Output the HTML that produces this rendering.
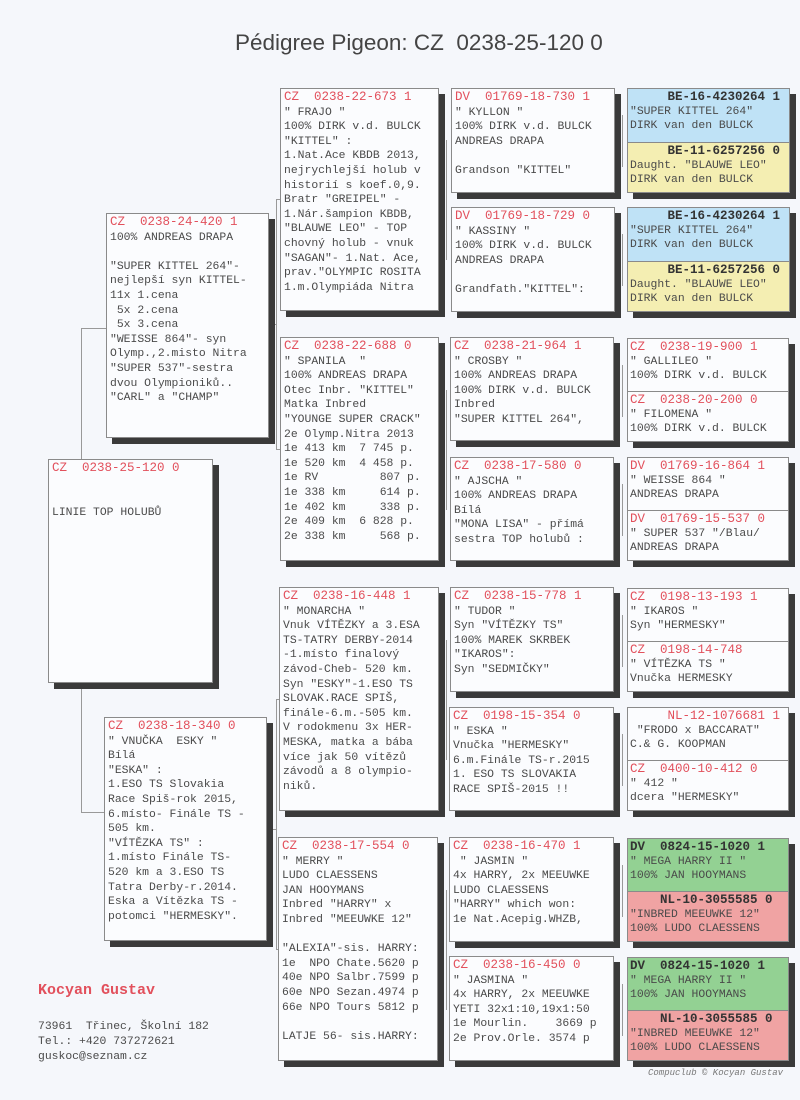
<!DOCTYPE html>
<html><head><meta charset="utf-8"><style>
body{margin:0;width:800px;height:1100px;background:#f5f7fb;position:relative;overflow:hidden;font-family:"Liberation Mono",monospace;color:#4a4a4a}
.b{position:absolute;background:#fbfcfe;border:1px solid #8a8a8a;box-shadow:6px 6px 0 #3a3a3a;font-size:11.4px;line-height:14.6px;padding:1px 0 0 3px;box-sizing:border-box;white-space:pre;overflow:hidden}
.r{color:#e2505c;font-size:12.5px}
.p{position:absolute;border:1px solid #8a8a8a;box-shadow:6px 6px 0 #3a3a3a;box-sizing:border-box;font-size:11.4px;white-space:pre;overflow:hidden}
.h{position:absolute;left:0;right:0;padding:1px 0 0 2px;line-height:14px;box-sizing:border-box}
.k{font-weight:bold;color:#333;font-size:12.5px}
.ln{position:absolute;background:#999}
</style></head><body>
<div style="position:absolute;left:235px;top:30px;font-family:'Liberation Sans',sans-serif;font-size:22.5px;color:#444;white-space:pre">Pédigree Pigeon: CZ  0238-25-120 0</div>

<!-- connectors -->
<div class="ln" style="left:81px;top:328px;width:1px;height:131px"></div>
<div class="ln" style="left:81px;top:328px;width:25px;height:1px"></div>
<div class="ln" style="left:81px;top:682px;width:1px;height:131px"></div>
<div class="ln" style="left:81px;top:812px;width:23px;height:1px"></div>
<div class="ln" style="left:276px;top:199px;width:1px;height:250px"></div>
<div class="ln" style="left:268px;top:324px;width:8px;height:1px"></div>
<div class="ln" style="left:276px;top:199px;width:4px;height:1px"></div>
<div class="ln" style="left:276px;top:449px;width:4px;height:1px"></div>
<div class="ln" style="left:276px;top:699px;width:1px;height:250px"></div>
<div class="ln" style="left:268px;top:829px;width:8px;height:1px"></div>
<div class="ln" style="left:276px;top:699px;width:4px;height:1px"></div>
<div class="ln" style="left:276px;top:949px;width:4px;height:1px"></div>
<div class="ln" style="left:446px;top:140px;width:1px;height:120px"></div>
<div class="ln" style="left:446px;top:390px;width:1px;height:120px"></div>
<div class="ln" style="left:446px;top:640px;width:1px;height:120px"></div>
<div class="ln" style="left:446px;top:890px;width:1px;height:120px"></div>
<div class="ln" style="left:622px;top:115px;width:1px;height:52px"></div>
<div class="ln" style="left:622px;top:234px;width:1px;height:52px"></div>
<div class="ln" style="left:622px;top:365px;width:1px;height:52px"></div>
<div class="ln" style="left:622px;top:484px;width:1px;height:52px"></div>
<div class="ln" style="left:622px;top:615px;width:1px;height:52px"></div>
<div class="ln" style="left:622px;top:734px;width:1px;height:52px"></div>
<div class="ln" style="left:622px;top:865px;width:1px;height:52px"></div>
<div class="ln" style="left:622px;top:984px;width:1px;height:52px"></div>

<!-- gen1 -->
<div class="b" style="left:48px;top:459px;width:165px;height:224px"><span class="r">CZ  0238-25-120 0</span>


LINIE TOP HOLUBŮ</div>

<!-- gen2 -->
<div class="b" style="left:106px;top:213px;width:163px;height:225px"><span class="r">CZ  0238-24-420 1</span>
100% ANDREAS DRAPA

"SUPER KITTEL 264"-
nejlepší syn KITTEL-
11x 1.cena
 5x 2.cena
 5x 3.cena
"WEISSE 864"- syn
Olymp.,2.misto Nitra
"SUPER 537"-sestra
dvou Olympioniků..
"CARL" a "CHAMP"</div>
<div class="b" style="left:104px;top:717px;width:163px;height:224px"><span class="r">CZ  0238-18-340 0</span>
" VNUČKA  ESKY "
Bílá
"ESKA" :
1.ESO TS Slovakia
Race Spiš-rok 2015,
6.místo- Finále TS -
505 km.
"VÍTĚZKA TS" :
1.místo Finále TS-
520 km a 3.ESO TS
Tatra Derby-r.2014.
Eska a Vítězka TS -
potomci "HERMESKY".</div>

<!-- gen3 -->
<div class="b" style="left:280px;top:88px;width:159px;height:223px"><span class="r">CZ  0238-22-673 1</span>
" FRAJO "
100% DIRK v.d. BULCK
"KITTEL" :
1.Nat.Ace KBDB 2013,
nejrychlejší holub v
historií s koef.0,9.
Bratr "GREIPEL" -
1.Nár.šampion KBDB,
"BLAUWE LEO" - TOP
chovný holub - vnuk
"SAGAN"- 1.Nat. Ace,
prav."OLYMPIC ROSITA
1.m.Olympiáda Nitra</div>
<div class="b" style="left:280px;top:337px;width:159px;height:224px"><span class="r">CZ  0238-22-688 0</span>
" SPANILA  "
100% ANDREAS DRAPA
Otec Inbr. "KITTEL"
Matka Inbred
"YOUNGE SUPER CRACK"
2e Olymp.Nitra 2013
1e 413 km  7 745 p.
1e 520 km  4 458 p.
1e RV         807 p.
1e 338 km     614 p.
1e 402 km     338 p.
2e 409 km  6 828 p.
2e 338 km     568 p.</div>
<div class="b" style="left:279px;top:587px;width:160px;height:224px"><span class="r">CZ  0238-16-448 1</span>
" MONARCHA "
Vnuk VÍTĚZKY a 3.ESA
TS-TATRY DERBY-2014
-1.místo finalový
závod-Cheb- 520 km.
Syn "ESKY"-1.ESO TS
SLOVAK.RACE SPIŠ,
finále-6.m.-505 km.
V rodokmenu 3x HER-
MESKA, matka a bába
více jak 50 vítězů
závodů a 8 olympio-
niků.</div>
<div class="b" style="left:278px;top:837px;width:160px;height:224px"><span class="r">CZ  0238-17-554 0</span>
" MERRY "
LUDO CLAESSENS
JAN HOOYMANS
Inbred "HARRY" x
Inbred "MEEUWKE 12"

"ALEXIA"-sis. HARRY:
1e  NPO Chate.5620 p
40e NPO Salbr.7599 p
60e NPO Sezan.4974 p
66e NPO Tours 5812 p

LATJE 56- sis.HARRY:</div>

<!-- gen4 -->
<div class="b" style="left:451px;top:88px;width:164px;height:105px"><span class="r">DV  01769-18-730 1</span>
" KYLLON "
100% DIRK v.d. BULCK
ANDREAS DRAPA

Grandson "KITTEL"</div>
<div class="b" style="left:451px;top:207px;width:164px;height:105px"><span class="r">DV  01769-18-729 0</span>
" KASSINY "
100% DIRK v.d. BULCK
ANDREAS DRAPA

Grandfath."KITTEL":</div>
<div class="b" style="left:450px;top:337px;width:164px;height:104px"><span class="r">CZ  0238-21-964 1</span>
" CROSBY "
100% ANDREAS DRAPA
100% DIRK v.d. BULCK
Inbred
"SUPER KITTEL 264",</div>
<div class="b" style="left:450px;top:457px;width:164px;height:104px"><span class="r">CZ  0238-17-580 0</span>
" AJSCHA "
100% ANDREAS DRAPA
Bílá
"MONA LISA" - přímá
sestra TOP holubů :</div>
<div class="b" style="left:450px;top:587px;width:164px;height:105px"><span class="r">CZ  0238-15-778 1</span>
" TUDOR "
Syn "VÍTĚZKY TS"
100% MAREK SKRBEK
"IKAROS":
Syn "SEDMIČKY"</div>
<div class="b" style="left:449px;top:707px;width:165px;height:104px"><span class="r">CZ  0198-15-354 0</span>
" ESKA "
Vnučka "HERMESKY"
6.m.Finále TS-r.2015
1. ESO TS SLOVAKIA
RACE SPIŠ-2015 !!</div>
<div class="b" style="left:449px;top:837px;width:165px;height:105px"><span class="r">CZ  0238-16-470 1</span>
 " JASMIN "
4x HARRY, 2x MEEUWKE
LUDO CLAESSENS
"HARRY" which won:
1e Nat.Acepig.WHZB,</div>
<div class="b" style="left:449px;top:956px;width:165px;height:105px"><span class="r">CZ  0238-16-450 0</span>
" JASMINA "
4x HARRY, 2x MEEUWKE
YETI 32x1:10,19x1:50
1e Mourlin.    3669 p
2e Prov.Orle. 3574 p</div>

<!-- gen5 -->
<div class="p" style="left:627px;top:88px;width:163px;height:105px">
 <div class="h" style="top:0;height:53px;background:#bfe2f6"><span class="k">     BE-16-4230264 1</span>
"SUPER KITTEL 264"
DIRK van den BULCK</div>
 <div class="h" style="top:53px;height:52px;background:#f4eeb2;border-top:1px solid #8a8a8a"><span class="k">     BE-11-6257256 0</span>
Daught. "BLAUWE LEO"
DIRK van den BULCK</div></div>
<div class="p" style="left:627px;top:207px;width:163px;height:105px">
 <div class="h" style="top:0;height:53px;background:#bfe2f6"><span class="k">     BE-16-4230264 1</span>
"SUPER KITTEL 264"
DIRK van den BULCK</div>
 <div class="h" style="top:53px;height:52px;background:#f4eeb2;border-top:1px solid #8a8a8a"><span class="k">     BE-11-6257256 0</span>
Daught. "BLAUWE LEO"
DIRK van den BULCK</div></div>
<div class="p" style="left:627px;top:338px;width:162px;height:104px;background:#fbfcfe">
 <div class="h" style="top:0;height:52px"><span class="r">CZ  0238-19-900 1</span>
" GALLILEO "
100% DIRK v.d. BULCK</div>
 <div class="h" style="top:52px;height:52px;border-top:1px solid #8a8a8a"><span class="r">CZ  0238-20-200 0</span>
" FILOMENA "
100% DIRK v.d. BULCK</div></div>
<div class="p" style="left:627px;top:457px;width:162px;height:104px;background:#fbfcfe">
 <div class="h" style="top:0;height:52px"><span class="r">DV  01769-16-864 1</span>
" WEISSE 864 "
ANDREAS DRAPA</div>
 <div class="h" style="top:52px;height:52px;border-top:1px solid #8a8a8a"><span class="r">DV  01769-15-537 0</span>
" SUPER 537 "/Blau/
ANDREAS DRAPA</div></div>
<div class="p" style="left:627px;top:588px;width:162px;height:104px;background:#fbfcfe">
 <div class="h" style="top:0;height:52px"><span class="r">CZ  0198-13-193 1</span>
" IKAROS "
Syn "HERMESKY"</div>
 <div class="h" style="top:52px;height:52px;border-top:1px solid #8a8a8a"><span class="r">CZ  0198-14-748</span>
" VÍTĚZKA TS "
Vnučka HERMESKY</div></div>
<div class="p" style="left:627px;top:707px;width:162px;height:104px;background:#fbfcfe">
 <div class="h" style="top:0;height:52px"><span class="r">     NL-12-1076681 1</span>
 "FRODO x BACCARAT"
C.& G. KOOPMAN</div>
 <div class="h" style="top:52px;height:52px;border-top:1px solid #8a8a8a"><span class="r">CZ  0400-10-412 0</span>
" 412 "
dcera "HERMESKY"</div></div>
<div class="p" style="left:627px;top:838px;width:162px;height:104px">
 <div class="h" style="top:0;height:52px;background:#93d193"><span class="k">DV  0824-15-1020 1</span>
" MEGA HARRY II "
100% JAN HOOYMANS</div>
 <div class="h" style="top:52px;height:52px;background:#f0a3a3;border-top:1px solid #8a8a8a"><span class="k">    NL-10-3055585 0</span>
"INBRED MEEUWKE 12"
100% LUDO CLAESSENS</div></div>
<div class="p" style="left:627px;top:957px;width:162px;height:104px">
 <div class="h" style="top:0;height:52px;background:#93d193"><span class="k">DV  0824-15-1020 1</span>
" MEGA HARRY II "
100% JAN HOOYMANS</div>
 <div class="h" style="top:52px;height:52px;background:#f0a3a3;border-top:1px solid #8a8a8a"><span class="k">    NL-10-3055585 0</span>
"INBRED MEEUWKE 12"
100% LUDO CLAESSENS</div></div>

<!-- footer -->
<div style="position:absolute;left:38px;top:982px;font-size:15px;font-weight:bold;color:#e2505c">Kocyan Gustav</div>
<div style="position:absolute;left:38px;top:1020px;font-size:11.4px;line-height:15px;white-space:pre">73961  Třinec, Školní 182
Tel.: +420 737272621
guskoc@seznam.cz</div>
<div style="position:absolute;left:648px;top:1068px;font-size:9px;font-style:italic;color:#777">Compuclub © Kocyan Gustav</div>
</body></html>
